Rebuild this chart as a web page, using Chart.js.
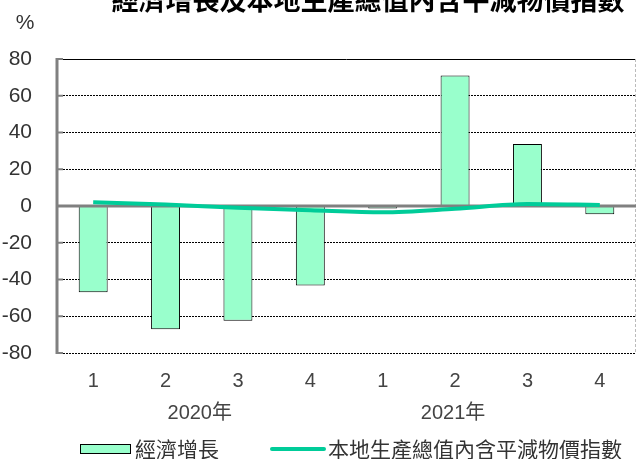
<!DOCTYPE html>
<html>
<head>
<meta charset="utf-8">
<script src="https://cdn.jsdelivr.net/npm/chart.js@4/dist/chart.umd.min.js"></script>
<style>
html,body{margin:0;padding:0;background:#fff;}
#wrap{width:638px;height:459px;position:relative;}
</style>
</head>
<body>
<div id="wrap"><canvas id="c" width="638" height="459"></canvas></div>
<script>
const title = "經濟增長及本地生產總值內含平減物價指數";
const quarters = ["1", "2", "3", "4", "1", "2", "3", "4"];
const yearLabels = ["2020年", "2021年"];
const yearSpans = [[0, 3], [4, 6]];
const growthLabel = "經濟增長";
const deflatorLabel = "本地生產總值內含平減物價指數";
const growth = [-47.0, -67.1, -62.5, -43.2, -1.4, 71.0, 33.7, -4.5];
const deflator = [2.0, 0.8, -1.0, -2.3, -3.4, -1.5, 1.1, 0.6];
const yTicks = [-80, -60, -40, -20, 0, 20, 40, 60, 80];

const BAR = '#99FFCC', LINE = '#00CC99', AXIS = '#808080';
const FONT = '"Liberation Sans Narrow", "Arial Narrow", "Liberation Sans", sans-serif';
const CJK = '"Noto Sans CJK TC", "Noto Sans CJK SC", sans-serif';

const deco = {
  id: 'deco',
  beforeDatasetsDraw(chart) {
    const {ctx, chartArea: a, scales: {y}} = chart;
    ctx.save();
    ctx.strokeStyle = '#000'; ctx.lineWidth = 1; ctx.setLineDash([]);
    const t = Math.round(y.getPixelForValue(80)) + 0.5;
    ctx.beginPath(); ctx.moveTo(a.left, t); ctx.lineTo(a.right, t); ctx.stroke();
    ctx.strokeStyle = '#bbbbbb'; ctx.setLineDash([3, 2]);
    ctx.beginPath(); ctx.moveTo(a.right - 0.5, a.top); ctx.lineTo(a.right - 0.5, a.bottom); ctx.stroke();
    ctx.restore();
  },
  afterDatasetDraw(chart, args) {
    if (args.index !== 0) return;
    const {ctx, chartArea: a, scales: {y}} = chart;
    ctx.save();
    ctx.setLineDash([]);
    const z = y.getPixelForValue(0);
    ctx.strokeStyle = AXIS; ctx.lineWidth = 3;
    ctx.beginPath(); ctx.moveTo(a.left, z); ctx.lineTo(a.right, z); ctx.stroke();
    ctx.beginPath(); ctx.moveTo(a.left, a.top - 1); ctx.lineTo(a.left, a.bottom + 1); ctx.stroke();
    ctx.lineWidth = 2;
    yTicks.forEach(v => {
      const p = y.getPixelForValue(v);
      ctx.beginPath(); ctx.moveTo(a.left, p); ctx.lineTo(a.left + 6, p); ctx.stroke();
    });
    ctx.restore();
  },
  afterDraw(chart) {
    const {ctx, scales: {x}} = chart;
    ctx.save();
    ctx.fillStyle = '#000';
    ctx.font = 'bold 27px ' + CJK;
    ctx.textAlign = 'center'; ctx.textBaseline = 'middle';
    ctx.fillText(title, 368, 0);
    ctx.font = '21px ' + FONT; ctx.fillStyle = '#333';
    ctx.fillText('%', 25, 23);
    ctx.fillStyle = '#444';
    ctx.font = '20px ' + FONT + ', ' + CJK;
    yearSpans.forEach((s, i) => {
      const cx = (x.getPixelForValue(s[0]) + x.getPixelForValue(s[1])) / 2;
      ctx.fillText(yearLabels[i], cx - 2, 413);
    });
    const ds = chart.data.datasets;
    ctx.fillStyle = ds[0].backgroundColor;
    ctx.fillRect(80, 444, 50, 9);
    ctx.strokeStyle = '#000'; ctx.lineWidth = 1;
    ctx.strokeRect(80.5, 444.5, 50, 9);
    ctx.font = '21px ' + CJK; ctx.fillStyle = '#333'; ctx.textAlign = 'left';
    ctx.fillText(ds[0].label, 135, 449);
    ctx.strokeStyle = ds[1].borderColor; ctx.lineWidth = 4; ctx.lineCap = 'round';
    ctx.beginPath(); ctx.moveTo(272, 449); ctx.lineTo(324, 449); ctx.stroke();
    ctx.fillText(ds[1].label, 328, 449);
    ctx.restore();
  }
};

new Chart(document.getElementById('c'), {
  type: 'bar',
  data: {
    labels: quarters,
    datasets: [
      {
        type: 'bar', label: growthLabel, data: growth,
        backgroundColor: BAR, borderColor: '#000', borderWidth: 1,
        categoryPercentage: 1.0, barPercentage: 0.4, order: 2
      },
      {
        type: 'line', label: deflatorLabel, data: deflator,
        borderColor: LINE, borderWidth: 4, pointRadius: 0, tension: 0.4,
        cubicInterpolationMode: 'monotone', fill: false, order: 1
      }
    ]
  },
  options: {
    responsive: false, animation: false,
    layout: { autoPadding: false, padding: { top: 59, left: 0, right: 2, bottom: 0 } },
    plugins: { legend: { display: false }, tooltip: { enabled: false }, title: { display: false } },
    scales: {
      x: {
        grid: { display: false, drawTicks: false },
        border: { display: false },
        ticks: { color: '#444', font: { family: FONT, size: 20 }, padding: 16, maxRotation: 0 },
        afterFit(s) { s.height = 106; }
      },
      y: {
        min: -80, max: 80,
        afterBuildTicks(s) { s.ticks = yTicks.map(v => ({ value: v })); },
        grid: {
          drawTicks: false, lineWidth: 1,
          color: ctx => (ctx.tick && (ctx.tick.value === 0 || ctx.tick.value === 80)) ? 'rgba(0,0,0,0)' : '#000'
        },
        border: { display: false, dash: [2, 1] },
        ticks: { color: '#333', font: { family: FONT, size: 21 }, padding: 25 },
        afterFit(s) { s.width = 57; }
      }
    }
  },
  plugins: [deco]
});
</script>
</body>
</html>
